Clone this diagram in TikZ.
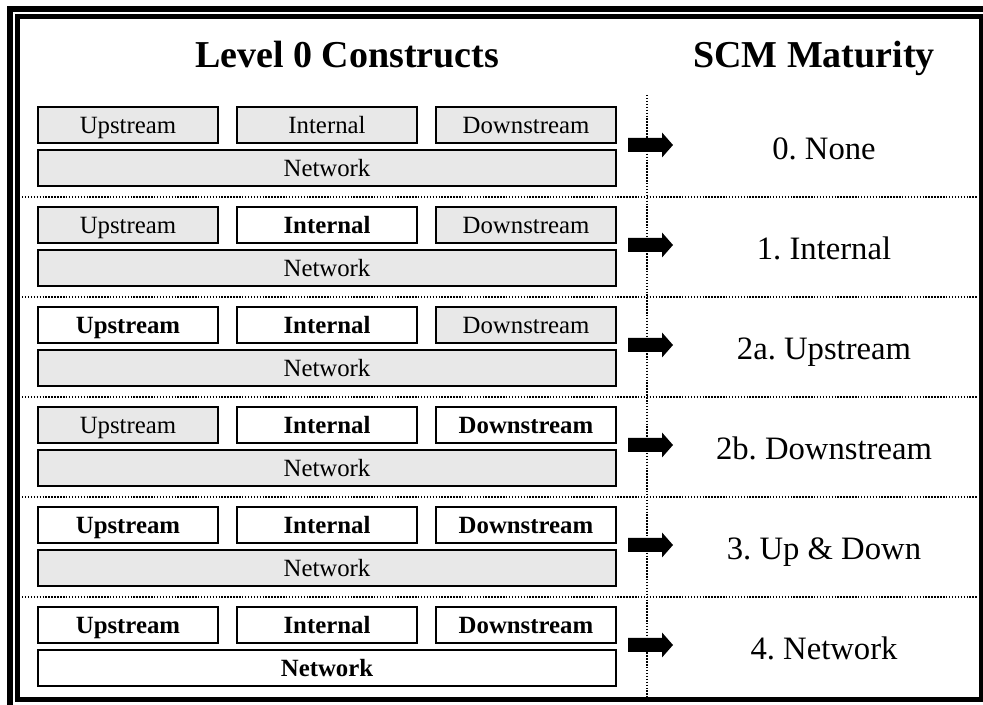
\documentclass[tikz,border=0pt]{standalone}
\usepackage{fontspec}
\setmainfont{Liberation Serif}
\frenchspacing
\definecolor{boxgray}{RGB}{232,232,232}

\tikzset{
  cbox/.style={draw, line width=1.5pt, fill=boxgray, minimum width=135pt, minimum height=27pt,
    inner sep=0pt, text height=12.3pt, text depth=0pt, font=\fontsize{18.6}{20}\selectfont},
  cboxon/.style={cbox, fill=white, font=\fontsize{18.6}{20}\selectfont\bfseries},
  netbox/.style={minimum width=433.5pt},
  lvltext/.style={anchor=base, inner sep=0pt, font=\fontsize{24.5}{28}\selectfont},
  headtext/.style={anchor=base, inner sep=0pt, font=\fontsize{28.5}{32}\selectfont\bfseries},
  sepline/.style={line width=1.1pt, dash pattern=on 1.1pt off 1.1pt},
  matarrow/.pic={\fill (-19,-7) -- (15,-7) -- (15,-12.5) -- (26,0) -- (15,12.5) -- (15,7) -- (-19,7) -- cycle;}
}

\begin{document}
\begin{tikzpicture}[x=0.75pt,y=0.75pt,yscale=-1,xscale=1]
\useasboundingbox (0,0) rectangle (983,705);

%Shape: Double frame
\draw [line width=4.1pt] (10,9) rectangle (990,712);
\draw [line width=3.75pt] (17.5,16.5) rectangle (981.5,699.5);

%Straight Lines: row separators
\draw [sepline] (22,197) -- (978,197);
\draw [sepline] (22,297) -- (978,297);
\draw [sepline] (22,397) -- (978,397);
\draw [sepline] (22,497) -- (978,497);
\draw [sepline] (22,597) -- (978,597);
%Straight Lines: column separator
\draw [sepline] (647,95) -- (647,697);

% Text Node
\node [headtext] (hcon) at (347,68) {Level 0 Constructs};
% Text Node
\node [headtext] (hmat) at (814,68) {SCM Maturity};

%Row 0
\node [cbox] (up0) at (128,125) {Upstream};
\node [cbox] (in0) at (327,125) {Internal};
\node [cbox] (dn0) at (526,125) {Downstream};
\node [cbox,netbox] (nw0) at (327,168) {Network};
\pic at (647,145) {matarrow};
\node [lvltext] (lv0) at (824,160) {0. None};

%Row 1
\node [cbox] (up1) at (128,225) {Upstream};
\node [cboxon] (in1) at (327,225) {Internal};
\node [cbox] (dn1) at (526,225) {Downstream};
\node [cbox,netbox] (nw1) at (327,268) {Network};
\pic at (647,245) {matarrow};
\node [lvltext] (lv1) at (824,260) {1. Internal};

%Row 2
\node [cboxon] (up2) at (128,325) {Upstream};
\node [cboxon] (in2) at (327,325) {Internal};
\node [cbox] (dn2) at (526,325) {Downstream};
\node [cbox,netbox] (nw2) at (327,368) {Network};
\pic at (647,345) {matarrow};
\node [lvltext] (lv2) at (824,360) {2a. Upstream};

%Row 3
\node [cbox] (up3) at (128,425) {Upstream};
\node [cboxon] (in3) at (327,425) {Internal};
\node [cboxon] (dn3) at (526,425) {Downstream};
\node [cbox,netbox] (nw3) at (327,468) {Network};
\pic at (647,445) {matarrow};
\node [lvltext] (lv3) at (824,460) {2b. Downstream};

%Row 4
\node [cboxon] (up4) at (128,525) {Upstream};
\node [cboxon] (in4) at (327,525) {Internal};
\node [cboxon] (dn4) at (526,525) {Downstream};
\node [cbox,netbox] (nw4) at (327,568) {Network};
\pic at (647,545) {matarrow};
\node [lvltext] (lv4) at (824,560) {3. Up \& Down};

%Row 5
\node [cboxon] (up5) at (128,625) {Upstream};
\node [cboxon] (in5) at (327,625) {Internal};
\node [cboxon] (dn5) at (526,625) {Downstream};
\node [cboxon,netbox] (nw5) at (327,668) {Network};
\pic at (647,645) {matarrow};
\node [lvltext] (lv5) at (824,660) {4. Network};

\end{tikzpicture}
\end{document}
